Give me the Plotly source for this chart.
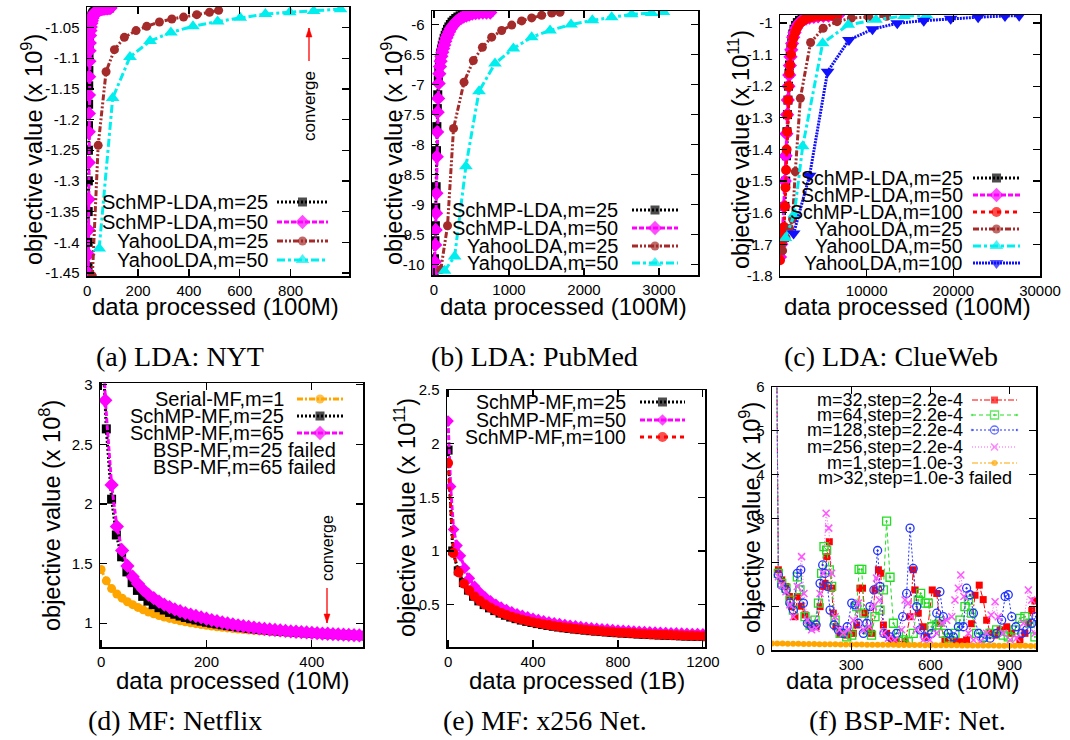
import plotly.graph_objects as go

W, H = 1070, 740
SANS = "Liberation Sans, Arial, sans-serif"
SERIF = "Liberation Serif, Times New Roman, serif"

# ======================= DATA =======================
# (a) LDA: NYT   x in 100M, y in 1e9
a_s25_x = [3.0, 3.4, 3.8, 4.2, 4.6, 5.0, 5.4, 5.8, 6.3, 6.9, 7.5, 8.2, 9.0, 10, 11, 12.5, 14, 16, 18, 21,
           24, 27, 30, 34, 38, 43, 48, 53, 58, 64, 70, 76, 82, 88]
a_s25_y = [-1.44, -1.40, -1.35, -1.30, -1.25, -1.21, -1.175, -1.145, -1.12, -1.10, -1.083, -1.07, -1.06, -1.052,
           -1.046, -1.041, -1.037, -1.034, -1.031, -1.028, -1.026, -1.025, -1.0235, -1.0225, -1.0215, -1.021,
           -1.0202, -1.0197, -1.0192, -1.0188, -1.0185, -1.0183, -1.0181, -1.018]
a_s50_x = [4.0, 4.4, 4.8, 5.2, 5.6, 6.0, 6.4, 6.8, 7.4, 8.2, 9.0, 10, 11, 12.5, 14, 16, 18, 20, 22.5, 25,
           28, 31, 34, 38, 42, 47, 52, 57, 62, 68, 74, 80, 86, 92]
a_s50_y = [-1.45, -1.42, -1.38, -1.33, -1.27, -1.22, -1.19, -1.16, -1.13, -1.105, -1.088, -1.075, -1.063, -1.055,
           -1.049, -1.043, -1.039, -1.035, -1.032, -1.029, -1.027, -1.025, -1.024, -1.023, -1.022, -1.021,
           -1.0205, -1.020, -1.0195, -1.019, -1.0187, -1.0185, -1.0183, -1.018]
a_y25_x = [20, 43, 74, 107, 146, 192, 234, 284, 333, 379, 431, 481, 517]
a_y25_y = [-1.455, -1.242, -1.122, -1.086, -1.066, -1.055, -1.048, -1.041, -1.036, -1.033, -1.029, -1.025, -1.022]
a_y50_x = [47, 100, 168, 247, 329, 416, 513, 602, 701, 797, 891, 997]
a_y50_y = [-1.41, -1.165, -1.098, -1.072, -1.058, -1.048, -1.040, -1.034, -1.028, -1.025, -1.023, -1.02]

# (b) LDA: PubMed
b_s25_x = [0, 6, 12, 18, 23, 28, 33, 38, 44, 50, 57, 64, 72, 80, 89, 99, 110, 122, 135, 149,
           164, 180, 198, 218, 240, 264, 290, 318, 348, 380, 415, 452, 492, 535, 580, 630, 680, 730]
b_s25_y = [-10.1, -9.9, -9.6, -9.35, -9.05, -8.7, -8.1, -7.7, -7.4, -7.17, -6.93, -6.77, -6.65, -6.56, -6.48,
           -6.41, -6.35, -6.29, -6.23, -6.18, -6.13, -6.08, -6.04, -6.0, -5.96, -5.93, -5.90, -5.875, -5.855,
           -5.84, -5.825, -5.815, -5.808, -5.803, -5.80, -5.80, -5.80, -5.80]
b_s50_x = [3, 10, 16, 22, 27, 32, 37, 42, 48, 55, 62, 70, 79, 88, 98, 110, 122, 136, 150, 166,
           183, 202, 222, 245, 270, 298, 328, 360, 395, 432, 470, 510, 555, 600, 650, 700, 750]
b_s50_y = [-10.1, -9.95, -9.67, -9.42, -9.14, -8.81, -8.2, -7.79, -7.46, -7.23, -6.98, -6.82, -6.70, -6.61,
           -6.53, -6.46, -6.40, -6.34, -6.28, -6.22, -6.17, -6.12, -6.07, -6.03, -5.99, -5.95, -5.92, -5.895,
           -5.87, -5.85, -5.835, -5.82, -5.81, -5.805, -5.80, -5.80, -5.80]
b_y25_x = [90, 180, 260, 400, 524, 645, 769, 902, 1036, 1169, 1302, 1435, 1570, 1680]
b_y25_y = [-10.08, -9.35, -7.73, -6.96, -6.6, -6.38, -6.21, -6.1, -6.01, -5.94, -5.89, -5.845, -5.81, -5.795]
b_y50_x = [140, 275, 425, 600, 813, 1058, 1302, 1547, 1827, 2111, 2369, 2636, 2902, 3060]
b_y50_y = [-10.1, -9.86, -8.36, -7.11, -6.65, -6.40, -6.21, -6.10, -6.0, -5.93, -5.88, -5.83, -5.81, -5.79]

# (c) LDA: ClueWeb  y in 1e11
c_s25_x = [0, 200, 400, 560, 660, 740, 800, 860, 920, 980, 1040, 1100, 1180, 1260, 1360, 1480, 1620, 1800,
           2000, 2250, 2550, 2900, 3300, 3800, 4300, 4900, 5500, 6100, 6600]
c_s25_y = [-1.72, -1.69, -1.66, -1.58, -1.50, -1.42, -1.344, -1.29, -1.244, -1.20, -1.16, -1.133, -1.10, -1.075,
           -1.052, -1.035, -1.02, -1.008, -0.999, -0.992, -0.987, -0.984, -0.982, -0.98, -0.979, -0.978, -0.977,
           -0.977, -0.976]
c_s50_x = [0, 150, 300, 430, 550, 650, 740, 820, 900, 980, 1060, 1140, 1215, 1300, 1400, 1520, 1680, 1860,
           2080, 2350, 2650, 3000, 3400, 3900, 4400, 5000, 5600, 6200, 6700]
c_s50_y = [-1.74, -1.70, -1.65, -1.58, -1.50, -1.42, -1.35, -1.29, -1.244, -1.20, -1.165, -1.135, -1.107, -1.085,
           -1.065, -1.045, -1.03, -1.016, -1.005, -0.996, -0.99, -0.986, -0.983, -0.981, -0.979, -0.978, -0.977,
           -0.977, -0.976]
c_s100_x = [0, 120, 240, 360, 480, 560, 640, 700, 760, 820, 880, 940, 1000, 1080, 1170, 1270, 1400, 1550, 1750,
            1950, 2200, 2500, 2800, 3200, 3600, 4000, 4500, 5000, 5500, 6000, 6600]
c_s100_y = [-1.75, -1.72, -1.69, -1.665, -1.645, -1.58, -1.52, -1.465, -1.40, -1.344, -1.29, -1.244, -1.20, -1.16,
            -1.133, -1.10, -1.07, -1.048, -1.03, -1.017, -1.005, -0.996, -0.99, -0.985, -0.982, -0.98, -0.979,
            -0.978, -0.977, -0.977, -0.976]
c_y25_x = [300, 700, 1100, 1450, 1765, 2350, 3530, 4980, 6590, 8235, 10200, 12300]
c_y25_y = [-1.72, -1.68, -1.65, -1.62, -1.47, -1.238, -1.062, -1.017, -0.996, -0.985, -0.981, -0.979]
c_y50_x = [630, 1650, 2620, 4920, 7880, 11060, 14310, 16900]
c_y50_y = [-1.68, -1.605, -1.39, -1.064, -1.006, -0.99, -0.978, -0.976]
c_y100_x = [1570, 3410, 5490, 7960, 10670, 13530, 16590, 19690, 22860, 25960, 27600]
c_y100_y = [-1.666, -1.483, -1.154, -1.054, -1.02, -1.001, -0.993, -0.987, -0.982, -0.978, -0.977]

# (d) MF: Netflix  x in 10M, y in 1e8
d_ser_x = [0, 10, 20, 30, 40, 50, 60, 70, 80, 90, 100, 110, 120, 130, 140, 150, 160, 170, 180, 190,
           200, 210, 220, 230, 240, 250, 260, 270, 280, 290, 300, 310, 320, 330, 340, 350, 360, 370, 380, 390,
           400, 410, 420, 430, 440, 450, 460, 470, 480, 490, 500]
d_ser_y = [1.45, 1.355, 1.29, 1.245, 1.21, 1.18, 1.155, 1.132, 1.112, 1.094, 1.078, 1.064, 1.051, 1.04, 1.03,
           1.02, 1.011, 1.003, 0.996, 0.989, 0.982, 0.976, 0.97, 0.965, 0.96, 0.955, 0.951, 0.947, 0.943, 0.939,
           0.936, 0.933, 0.93, 0.927, 0.924, 0.921, 0.919, 0.916, 0.914, 0.912, 0.91, 0.908, 0.906, 0.904, 0.902,
           0.9, 0.898, 0.896, 0.894, 0.892, 0.89]
d_s25_x = [3, 10, 20, 29, 39, 49, 59, 69, 79, 89, 99, 110, 120, 130, 140, 150, 160, 170, 180, 190, 200,
           210, 220, 230, 240, 250, 260, 270, 280, 290, 300, 310, 320, 330, 340, 350, 360, 370, 380, 390, 400,
           410, 420, 430, 440, 450, 460, 470, 480, 490, 500]
d_s25_y = [3.3, 2.63, 2.04, 1.74, 1.557, 1.43, 1.34, 1.275, 1.225, 1.185, 1.155, 1.13, 1.11, 1.09, 1.075, 1.06,
           1.048, 1.037, 1.027, 1.017, 1.008, 1.0, 0.993, 0.986, 0.979, 0.973, 0.967, 0.962, 0.957, 0.952, 0.948,
           0.944, 0.94, 0.936, 0.933, 0.93, 0.927, 0.924, 0.921, 0.918, 0.916, 0.913, 0.911, 0.908, 0.906, 0.904,
           0.902, 0.9, 0.898, 0.896, 0.894]
d_s65_x = [3, 8, 20, 30, 40, 50, 60, 70, 80, 90, 100, 110, 120, 130, 140, 150, 160, 170, 180, 190, 200,
           210, 220, 230, 240, 250, 260, 270, 280, 290, 300, 310, 320, 330, 340, 350, 360, 370, 380, 390, 400,
           410, 420, 430, 440, 450, 460, 470, 480, 490, 500]
d_s65_y = [3.6, 2.87, 2.16, 1.81, 1.61, 1.48, 1.39, 1.33, 1.28, 1.24, 1.21, 1.18, 1.155, 1.135, 1.115, 1.1,
           1.085, 1.072, 1.06, 1.048, 1.037, 1.026, 1.016, 1.006, 0.997, 0.989, 0.982, 0.975, 0.969, 0.963, 0.957,
           0.952, 0.947, 0.943, 0.939, 0.935, 0.931, 0.928, 0.925, 0.922, 0.919, 0.916, 0.913, 0.911, 0.908, 0.906,
           0.903, 0.901, 0.899, 0.897, 0.895]

# (e) MF: x256 Net.  x in 1B, y in 1e11
e_s25_x = [0, 22, 48, 72, 96, 120, 145, 170, 195, 220, 245, 270, 295, 320, 345, 370, 395, 420, 445, 470,
           495, 520, 545, 570, 595, 620, 645, 670, 695, 720, 745, 770, 795, 820, 845, 870, 895, 920, 945, 970,
           995, 1020, 1045, 1070, 1095, 1120, 1145, 1170, 1195, 1220]
e_s25_y = [1.94, 1.0, 0.815, 0.705, 0.635, 0.578, 0.535, 0.5, 0.47, 0.444, 0.421, 0.401, 0.384, 0.369, 0.356,
           0.344, 0.333, 0.323, 0.314, 0.306, 0.298, 0.291, 0.284, 0.278, 0.272, 0.267, 0.262, 0.257, 0.253, 0.249,
           0.245, 0.241, 0.238, 0.235, 0.232, 0.229, 0.226, 0.224, 0.221, 0.219, 0.217, 0.215, 0.213, 0.211, 0.209,
           0.207, 0.206, 0.204, 0.203, 0.201]
e_s50_x = [0, 12, 26, 42, 58, 78, 100, 125, 150, 175, 200, 225, 250, 275, 300, 325, 350, 375, 400, 425, 450,
           475, 500, 525, 550, 575, 600, 625, 650, 675, 700, 725, 750, 775, 800, 825, 850, 875, 900, 925, 950,
           975, 1000, 1025, 1050, 1075, 1100, 1125, 1150, 1175, 1200, 1225]
e_s50_y = [2.21, 1.6, 1.2, 1.05, 0.955, 0.84, 0.745, 0.67, 0.615, 0.57, 0.534, 0.503, 0.476, 0.453, 0.433,
           0.415, 0.399, 0.385, 0.372, 0.36, 0.349, 0.339, 0.33, 0.322, 0.314, 0.307, 0.301, 0.295, 0.289, 0.284,
           0.279, 0.275, 0.271, 0.267, 0.263, 0.26, 0.257, 0.254, 0.251, 0.248, 0.246, 0.244, 0.242, 0.24, 0.238,
           0.236, 0.234, 0.233, 0.231, 0.23, 0.228, 0.227]
e_s100_x = [0, 25, 50, 75, 100, 125, 150, 175, 200, 225, 250, 275, 300, 325, 350, 375, 400, 425, 450, 475,
            500, 525, 550, 575, 600, 625, 650, 675, 700, 725, 750, 775, 800, 825, 850, 875, 900, 925, 950, 975,
            1000, 1025, 1050, 1075, 1100, 1125, 1150, 1175, 1200, 1225]
e_s100_y = [1.82, 0.98, 0.80, 0.695, 0.63, 0.575, 0.535, 0.50, 0.47, 0.445, 0.423, 0.404, 0.387, 0.372, 0.359,
            0.347, 0.336, 0.326, 0.317, 0.309, 0.301, 0.294, 0.287, 0.281, 0.275, 0.27, 0.265, 0.26, 0.256, 0.252,
            0.248, 0.244, 0.241, 0.238, 0.235, 0.232, 0.229, 0.227, 0.224, 0.222, 0.22, 0.218, 0.216, 0.214, 0.212,
            0.21, 0.209, 0.207, 0.206, 0.204]

# (f) BSP-MF: Net.  x in 10M, y in 1e9
f_m32_x = [15, 24, 37, 53, 66, 74, 87, 96, 110, 125, 144, 167, 182, 194, 201, 207, 217, 226, 232, 242,
           258, 283, 308, 321, 333, 343, 352, 365, 377, 390, 403, 412, 422, 434, 453, 472, 504, 523, 535, 542,
           554, 573, 586, 607, 624, 636, 655, 687, 712, 737, 756, 769, 785, 800, 813, 826, 845, 864, 889, 908,
           939, 958, 971, 984, 996]
f_m32_y = [9, 1.83, 1.6, 1.45, 1.22, 0.99, 0.76, 1.22, 1.0, 0.8, 0.57, 0.53, 0.99, 1.45, 1.52, 2.13, 2.47, 1.41,
           0.84, 0.53, 0.38, 0.34, 0.38, 0.57, 1.41, 1.41, 0.84, 0.46, 0.38, 1.37, 1.83, 1.75, 0.57, 0.38, 0.23,
           0.19, 0.19, 0.76, 1.83, 1.37, 0.84, 0.53, 0.3, 1.37, 1.29, 0.61, 0.23, 0.19, 0.19, 0.23, 0.6, 1.25,
           1.48, 1.15, 0.68, 0.4, 0.34, 0.46, 0.53, 0.38, 0.23, 0.38, 0.61, 0.9, 1.12]
f_m64_x = [15, 24, 37, 53, 68, 81, 96, 106, 125, 144, 163, 176, 188, 197, 207, 217, 226, 239, 258, 283,
           302, 321, 330, 340, 348, 365, 377, 390, 409, 422, 434, 447, 460, 479, 497, 516, 535, 554, 563, 580,
           592, 605, 624, 636, 649, 668, 693, 712, 731, 744, 756, 775, 801, 826, 851, 876, 895, 920, 939, 958,
           977, 996]
f_m64_y = [9, 1.75, 1.52, 1.41, 1.14, 0.91, 1.67, 1.37, 0.76, 0.57, 0.68, 1.07, 1.75, 2.36, 2.28, 1.83, 1.45,
           0.68, 0.38, 0.30, 0.34, 0.99, 1.84, 1.84, 0.84, 0.46, 0.34, 0.76, 0.91, 1.37, 2.94, 1.66, 0.61, 0.38,
           0.23, 0.19, 0.38, 1.14, 1.29, 1.07, 1.07, 0.53, 0.57, 0.65, 0.38, 0.27, 0.38, 0.68, 0.99, 1.14, 0.84,
           0.38, 0.30, 0.38, 0.46, 0.34, 0.30, 0.46, 0.72, 0.76, 0.61, 0.30]
f_m128_x = [15, 24, 37, 53, 68, 81, 96, 109, 119, 134, 150, 167, 182, 192, 201, 210, 220, 235, 251, 270,
            285, 302, 314, 327, 346, 359, 371, 386, 400, 409, 424, 447, 472, 495, 510, 523, 535, 548, 561, 580,
            605, 624, 636, 649, 668, 687, 706, 725, 737, 750, 763, 782, 801, 826, 851, 870, 883, 895, 908, 924,
            946, 965, 984, 1000]
f_m128_y = [9, 1.71, 1.48, 1.37, 1.07, 0.91, 1.75, 1.83, 1.07, 0.61, 0.53, 0.57, 1.52, 1.94, 1.75, 1.45, 0.91,
            0.57, 0.46, 0.38, 0.53, 1.07, 1.03, 0.61, 0.38, 0.61, 0.99, 1.37, 2.27, 1.45, 0.38, 0.30, 0.38, 0.76,
            1.29, 2.78, 1.86, 0.99, 0.46, 0.30, 0.38, 0.84, 1.33, 0.76, 0.38, 0.30, 0.53, 0.53, 1.41, 1.26, 0.84,
            0.38, 0.27, 0.27, 0.38, 0.68, 1.22, 1.26, 0.76, 0.53, 0.38, 0.46, 0.61, 0.76]
f_m256_x = [15, 24, 37, 53, 68, 81, 96, 112, 121, 134, 150, 167, 182, 194, 205, 215, 226, 239, 255, 270,
            289, 308, 327, 346, 369, 384, 396, 407, 422, 441, 466, 491, 504, 516, 529, 548, 573, 598, 624, 643,
            662, 681, 693, 706, 715, 727, 744, 763, 788, 813, 830, 845, 857, 876, 902, 927, 952, 971, 984, 996]
f_m256_y = [9, 1.67, 1.48, 1.33, 1.03, 0.76, 1.45, 2.13, 1.29, 0.68, 0.46, 0.49, 1.29, 1.75, 3.12, 2.78, 1.75,
            0.76, 0.46, 0.38, 0.46, 0.68, 1.07, 0.46, 0.53, 0.99, 1.64, 1.14, 0.38, 0.27, 0.23, 0.46, 1.14, 1.07,
            0.76, 0.46, 0.23, 0.23, 0.38, 0.61, 0.68, 0.76, 1.14, 1.41, 1.71, 1.22, 0.38, 0.23, 0.19, 0.38, 0.80,
            1.10, 0.76, 0.38, 0.23, 0.27, 0.61, 1.37, 1.14, 0.38]
f_m1_x = [0, 20, 40, 60, 80, 100, 120, 140, 160, 180, 200, 220, 240, 260, 280, 300, 320, 340, 360, 380,
          400, 420, 440, 460, 480, 500, 520, 540, 560, 580, 600, 620, 640, 660, 680, 700, 720, 740, 760, 780,
          800, 820, 840, 860, 880, 900, 920, 940, 960, 980, 1000]
f_m1_y = [0.15, 0.148, 0.146, 0.144, 0.142, 0.14, 0.138, 0.137, 0.135, 0.134, 0.132, 0.131, 0.13, 0.128, 0.127,
          0.126, 0.125, 0.124, 0.122, 0.121, 0.12, 0.119, 0.118, 0.117, 0.116, 0.115, 0.114, 0.113, 0.112, 0.111,
          0.11, 0.109, 0.108, 0.107, 0.106, 0.106, 0.105, 0.104, 0.103, 0.102, 0.101, 0.1, 0.1, 0.099, 0.098,
          0.097, 0.096, 0.096, 0.095, 0.094, 0.093]

# Ticks
a_yt = [-1.05, -1.1, -1.15, -1.2, -1.25, -1.3, -1.35, -1.4, -1.45]
a_ytl = ["-1.05", "-1.1", "-1.15", "-1.2", "-1.25", "-1.3", "-1.35", "-1.4", "-1.45"]
a_xt = [0, 200, 400, 600, 800]
b_yt = [-6, -6.5, -7, -7.5, -8, -8.5, -9, -9.5, -10]
b_ytl = ["-6", "-6.5", "-7", "-7.5", "-8", "-8.5", "-9", "-9.5", "-10"]
b_xt = [0, 1000, 2000, 3000]
c_yt = [-1, -1.1, -1.2, -1.3, -1.4, -1.5, -1.6, -1.7, -1.8]
c_ytl = ["-1", "-1.1", "-1.2", "-1.3", "-1.4", "-1.5", "-1.6", "-1.7", "-1.8"]
c_xt = [10000, 20000, 30000]
d_yt = [1, 1.5, 2, 2.5, 3]
d_xt = [0, 200, 400]
e_yt = [0.5, 1, 1.5, 2, 2.5]
e_xt = [0, 400, 800, 1200]
f_yt = [0, 1, 2, 3, 4, 5, 6]
f_xt = [300, 600, 900]

# ======================= STYLES =======================
BLACK = dict(color="#000000", dash="2px,2px", lw=3, symbol="square", size=9)
MAG = dict(color="#ff00ff", dash="5px,2px", lw=3, symbol="diamond", size=11)
RED = dict(color="#ff0000", dash="4px,4px", lw=3, symbol="circle", size=10)
BROWN = dict(color="#a52a2a", dash="6px,2px,2px,2px,2px,2px", lw=3, symbol="circle", size=9)
CYAN = dict(color="#00eeee", dash="8px,3px,3px,3px", lw=3, symbol="triangle-up", size=12)
BLUE = dict(color="#1010ff", dash="2px,1px", lw=3, symbol="triangle-down", size=12)
ORANGE = dict(color="#ffa500", dash="6px,2px,2px,2px", lw=3, symbol="circle", size=9)
MAGe = dict(color="#ff00ff", dash="5px,2px", lw=3, symbol="diamond", size=9)
fRED = dict(color="#ff0000", dash="6px,2px,2px,2px", lw=1, symbol="square", size=7)
fGREEN = dict(color="#22dd22", dash="4px,3px", lw=1, symbol="square-open-dot", size=8, mlw=1.3)
fBLUE = dict(color="#2233ff", dash="2px,2px", lw=1, symbol="circle-open-dot", size=8, mlw=1.3)
fMAG = dict(color="#ff55ff", dash="1px,2px", lw=1, symbol="x-thin", size=7, mlw=1.5)
fORANGE = dict(color="#ffa500", dash="6px,2px,2px,2px,2px,2px", lw=1, symbol="circle", size=6)

# panel boxes in pixels: (left, right, top, bottom)
BOX = {1: (87, 349, 7, 276), 2: (432, 698, 11, 275), 3: (780, 1040, 15, 276),
       4: (100, 363, 383, 647), 5: (447, 705, 390, 647), 6: (772, 1036, 387, 650)}

fig = go.Figure()


def axn(i):
    return ("x", "y") if i == 1 else (f"x{i}", f"y{i}")


def add(i, x, y, st, clip=True):
    xa, ya = axn(i)
    mk = dict(symbol=st["symbol"], size=st["size"], color=st["color"])
    if "mlw" in st:
        mk["line"] = dict(width=st["mlw"], color=st["color"])
    else:
        mk["line"] = dict(width=0)
    fig.add_trace(go.Scatter(x=x, y=y, xaxis=xa, yaxis=ya, mode="lines+markers",
                             line=dict(color=st["color"], width=st["lw"], dash=st["dash"]),
                             marker=mk, showlegend=False, hoverinfo="skip", cliponaxis=clip))


# panel a
add(1, a_s25_x, a_s25_y, BLACK)
add(1, a_s50_x, a_s50_y, MAG)
add(1, a_y25_x, a_y25_y, BROWN)
add(1, a_y50_x, a_y50_y, CYAN)
# panel b
add(2, b_s25_x, b_s25_y, BLACK)
add(2, b_s50_x, b_s50_y, MAG)
add(2, b_y25_x, b_y25_y, BROWN)
add(2, b_y50_x, b_y50_y, CYAN)
# panel c
add(3, c_s25_x, c_s25_y, BLACK)
add(3, c_s50_x, c_s50_y, MAG)
add(3, c_s100_x, c_s100_y, RED)
add(3, c_y25_x, c_y25_y, BROWN)
add(3, c_y50_x, c_y50_y, CYAN)
add(3, c_y100_x, c_y100_y, BLUE)
# panel d
add(4, d_ser_x, d_ser_y, ORANGE)
add(4, d_s25_x, d_s25_y, BLACK)
add(4, d_s65_x, d_s65_y, MAG)
# panel e
add(5, e_s25_x, e_s25_y, BLACK)
add(5, e_s50_x, e_s50_y, MAGe)
add(5, e_s100_x, e_s100_y, RED)
# panel f
add(6, f_m32_x, f_m32_y, fRED)
add(6, f_m64_x, f_m64_y, fGREEN)
add(6, f_m128_x, f_m128_y, fBLUE)
add(6, f_m256_x, f_m256_y, fMAG)
add(6, f_m1_x, f_m1_y, fORANGE)

# ---------------- axes ----------------
XR = {1: [-1, 1030], 2: [-27, 3520], 3: [0, 30000], 4: [-2, 497], 5: [-5, 1210], 6: [0, 1000]}
YR = {1: [-1.455, -1.0165], 2: [-10.17, -5.775], 3: [-1.8, -0.975], 4: [0.8, 3.015], 5: [0.105, 2.5], 6: [0, 6]}
XT = {1: a_xt, 2: b_xt, 3: c_xt, 4: d_xt, 5: e_xt, 6: f_xt}
YT = {1: (a_yt, a_ytl), 2: (b_yt, b_ytl), 3: (c_yt, c_ytl),
      4: (d_yt, [str(v) for v in d_yt]), 5: (e_yt, [str(v) for v in e_yt]), 6: (f_yt, [str(v) for v in f_yt])}

common = dict(showline=True, linecolor="black", linewidth=1.5, mirror="ticks", ticks="inside",
              ticklen=7, tickwidth=1.2, tickcolor="black", showgrid=False, zeroline=False, automargin=False,
              tickfont=dict(family=SANS, size=15, color="black"))

lay = {}
for i in range(1, 7):
    l, r, t, b = BOX[i]
    xd = [l / W, r / W]
    yd = [1 - b / H, 1 - t / H]
    xk = "xaxis" if i == 1 else f"xaxis{i}"
    yk = "yaxis" if i == 1 else f"yaxis{i}"
    xa, ya = axn(i)
    lay[xk] = dict(common, domain=xd, range=XR[i], anchor=ya, tickvals=XT[i],
                   ticktext=[str(v) for v in XT[i]], ticklabelstandoff=0)
    lay[yk] = dict(common, domain=yd, range=YR[i], anchor=xa, tickvals=YT[i][0],
                   ticktext=YT[i][1], ticklabelstandoff=3)
    # overlay axes for legend samples (fraction of panel)
    j = i + 6
    lay[f"xaxis{j}"] = dict(domain=xd, range=[0, 1], visible=False, showticklabels=False,
                            automargin=False, anchor=f"y{j}")
    lay[f"yaxis{j}"] = dict(domain=yd, range=[0, 1], visible=False, showticklabels=False,
                            automargin=False, anchor=f"x{j}")

annotations = []
shapes = []


def txt(px, py, text, size, family=SANS, xanchor="center", angle=0):
    annotations.append(dict(x=px / W, y=1 - py / H, xref="paper", yref="paper", text=text, showarrow=False,
                            xanchor=xanchor, yanchor="middle", textangle=angle,
                            font=dict(family=family, size=size, color="black")))


def arrow(px, py_tail, py_head, color="#ff0000"):
    shapes.append(dict(type="line", xref="paper", yref="paper", x0=px / W, x1=px / W,
                       y0=1 - py_tail / H, y1=1 - py_head / H, line=dict(color=color, width=1.3)))
    d = 1 if py_head > py_tail else -1
    hx, hy = px, py_head
    path = (f"M {hx / W} {1 - hy / H} L {(hx - 3) / W} {1 - (hy - d * 9) / H} "
            f"L {(hx + 3) / W} {1 - (hy - d * 9) / H} Z")
    shapes.append(dict(type="path", xref="paper", yref="paper", path=path,
                       fillcolor=color, line=dict(color=color, width=0.5)))


def legend_row(i, text, right, lx1, lx2, py, st, fs):
    txt(right, py, text, fs, xanchor="right")
    if st is None:
        return
    l, r, t, b = BOX[i]
    f1 = (lx1 - l) / (r - l)
    f2 = (lx2 - l) / (r - l)
    fy = (b - py) / (b - t)
    j = i + 6
    mk = dict(symbol=st["symbol"], size=[0, st["size"], 0], color=st["color"])
    mk["line"] = dict(width=st.get("mlw", 0), color=st["color"])
    fig.add_trace(go.Scatter(x=[f1, (f1 + f2) / 2, f2], y=[fy, fy, fy], xaxis=f"x{j}", yaxis=f"y{j}",
                             mode="lines+markers", line=dict(color=st["color"], width=st["lw"], dash=st["dash"]),
                             marker=mk, showlegend=False, hoverinfo="skip", cliponaxis=False))


# legends
for k, (t, st) in enumerate([("SchMP-LDA,m=25", BLACK), ("SchMP-LDA,m=50", MAG),
                             ("YahooLDA,m=25", BROWN), ("YahooLDA,m=50", CYAN)]):
    legend_row(1, t, 270, 277, 328, [202, 222, 241, 260][k], st, 20)
for k, (t, st) in enumerate([("SchMP-LDA,m=25", BLACK), ("SchMP-LDA,m=50", MAG),
                             ("YahooLDA,m=25", BROWN), ("YahooLDA,m=50", CYAN)]):
    legend_row(2, t, 620, 632, 678, [210, 228, 246, 263][k], st, 20)
for k, (t, st) in enumerate([("SchMP-LDA,m=25", BLACK), ("SchMP-LDA,m=50", MAG), ("SchMP-LDA,m=100", RED),
                             ("YahooLDA,m=25", BROWN), ("YahooLDA,m=50", CYAN), ("YahooLDA,m=100", BLUE)]):
    legend_row(3, t, 965, 973, 1020, [178, 195, 212, 229, 246, 263][k], st, 19.5)
for k, (t, st) in enumerate([("Serial-MF,m=1", ORANGE), ("SchMP-MF,m=25", BLACK), ("SchMP-MF,m=65", MAG)]):
    legend_row(4, t, 286, 297, 343, [399, 416, 433][k], st, 20)
legend_row(4, "BSP-MF,m=25 failed", 338, 0, 0, 450, None, 20)
legend_row(4, "BSP-MF,m=65 failed", 338, 0, 0, 467, None, 20)
for k, (t, st) in enumerate([("SchMP-MF,m=25", BLACK), ("SchMP-MF,m=50", MAGe), ("SchMP-MF,m=100", RED)]):
    legend_row(5, t, 628, 640, 685, [402, 420, 437][k], st, 19.5)
for k, (t, st) in enumerate([("m=32,step=2.2e-4", fRED), ("m=64,step=2.2e-4", fGREEN),
                             ("m=128,step=2.2e-4", fBLUE), ("m=256,step=2.2e-4", fMAG),
                             ("m=1,step=1.0e-3", fORANGE)]):
    legend_row(6, t, 965, 972, 1017, [400, 415, 430, 447, 463][k], st, 18)
legend_row(6, "m>32,step=1.0e-3 failed", 1014, 0, 0, 478, None, 18)

# axis titles
YT_POS = {1: (32, 150, 9), 2: (392, 150, 9), 3: (739, 150, 11), 4: (50, 516, 8), 5: (405, 518, 11), 6: (750, 518, 9)}
for i, (px, py, e) in YT_POS.items():
    txt(px, py, f"objective value (x 10<sup>{e}</sup>)", 23.5, angle=-90)
XT_POS = {1: (215, 306, "100M"), 2: (563, 306, "100M"), 3: (907, 306, "100M"),
          4: (232, 680, "10M"), 5: (577, 680, "1B"), 6: (902, 680, "10M")}
for i, (px, py, u) in XT_POS.items():
    txt(px, py, f"data processed ({u})", 24)

# captions
for px, py, t in [(180, 356, "(a) LDA: NYT"), (534, 356, "(b) LDA: PubMed"), (891, 356, "(c) LDA: ClueWeb"),
                  (175, 720, "(d) MF: Netflix"), (545, 720, "(e) MF: x256 Net."), (907, 720, "(f) BSP-MF: Net.")]:
    txt(px, py, t, 28, family=SERIF)

# converge annotations
txt(310, 106, "converge", 17, angle=-90)
arrow(309, 61, 28)
txt(327, 548, "converge", 16, angle=-90)
arrow(327, 588, 623)

fig.update_layout(width=W, height=H, margin=dict(l=0, r=0, t=0, b=0), paper_bgcolor="white",
                  plot_bgcolor="rgba(0,0,0,0)", showlegend=False, annotations=annotations, shapes=shapes, **lay)

fig.write_html("out.html", config={"displayModeBar": False, "staticPlot": True},
               post_script="document.body.style.margin='0';document.body.style.padding='0';"
                           "document.body.style.overflow='hidden';")
